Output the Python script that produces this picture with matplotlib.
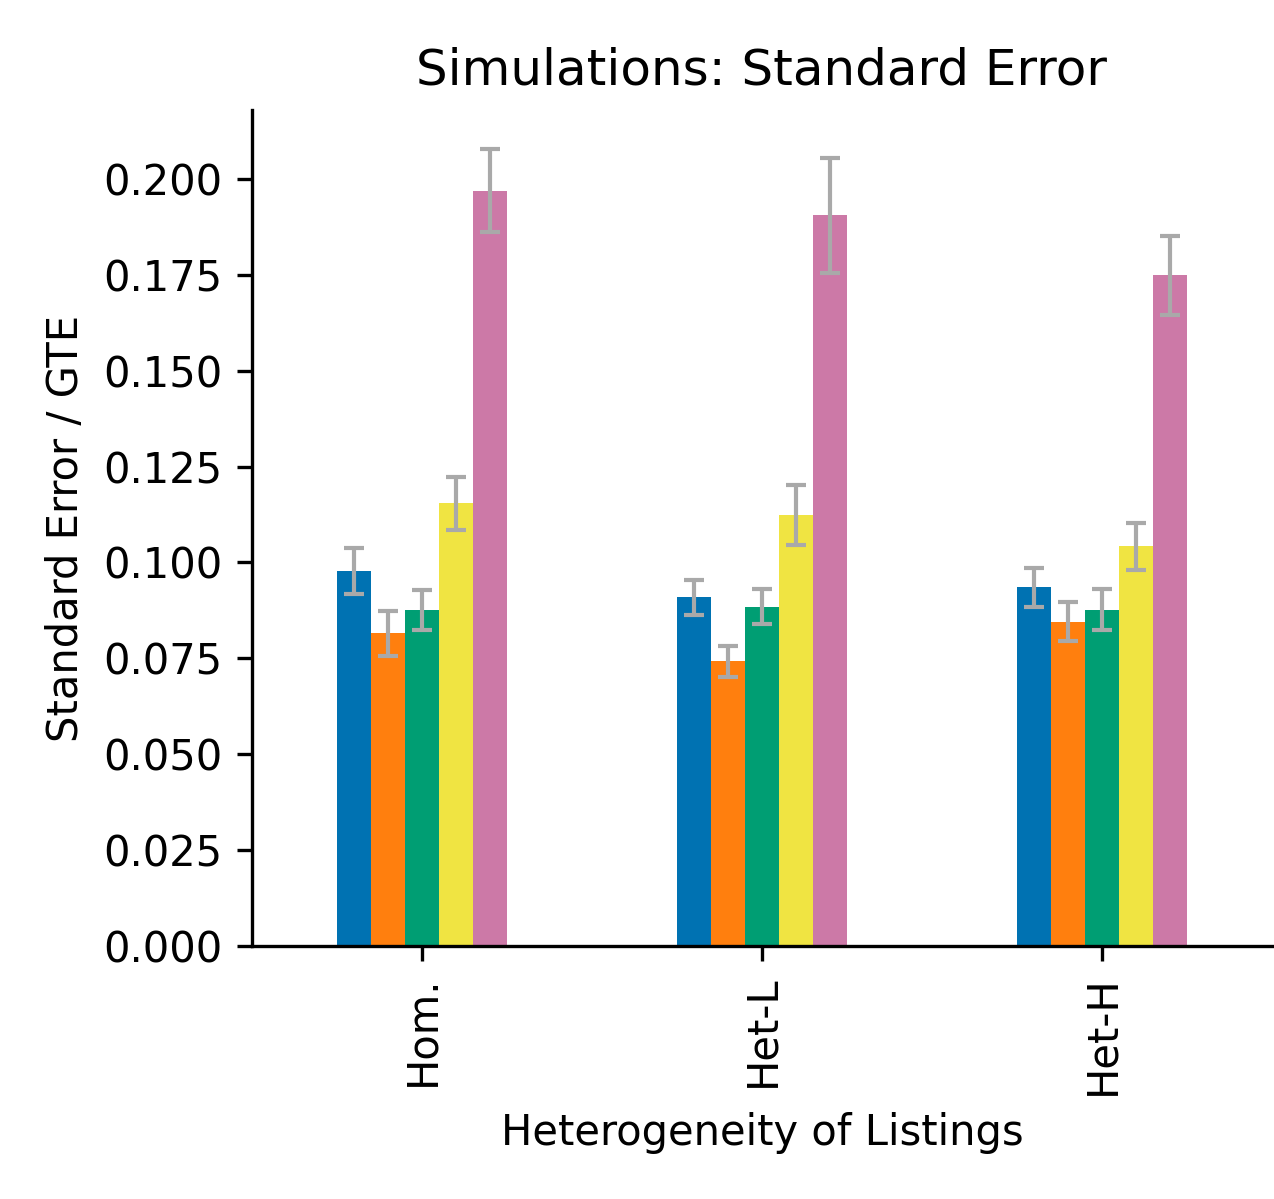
import matplotlib

matplotlib.use("Agg")
import matplotlib.pyplot as plt
import numpy as np

groups = ["Hom.", "Het-L", "Het-H"]
series_colors = ["#0072B2", "#FF7F0E", "#009E73", "#F0E442", "#CC79A7"]

# valores por serie (una lista por color), en el orden de 'groups'
se_blue = [0.0979, 0.0909, 0.0935]
se_orange = [0.0815, 0.0742, 0.0846]
se_green = [0.0877, 0.0885, 0.0877]
se_yellow = [0.1154, 0.1123, 0.1042]
se_pink = [0.1969, 0.1906, 0.1749]

err_blue = [0.0060, 0.0045, 0.0051]
err_orange = [0.0058, 0.0040, 0.0050]
err_green = [0.0052, 0.0046, 0.0053]
err_yellow = [0.0070, 0.0078, 0.0061]
err_pink = [0.0108, 0.0150, 0.0103]

values = [se_blue, se_orange, se_green, se_yellow, se_pink]
errors = [err_blue, err_orange, err_green, err_yellow, err_pink]

fig = plt.figure(figsize=(1274 / 300, 1199 / 300), dpi=300)
ax = fig.add_axes([0.1978, 0.211, 0.8006, 0.6973])

x = np.arange(len(groups))
n = len(values)
width = 0.5 / n
for i, (vals, errs, color) in enumerate(zip(values, errors, series_colors)):
    offset = (i - (n - 1) / 2) * width
    ax.bar(x + offset, vals, width, color=color, yerr=errs,
           error_kw=dict(ecolor="darkgray", elinewidth=1.0, capsize=2.4, capthick=1.0))

yticks = np.arange(0, 0.201, 0.025)
ax.set_xlim(-0.5, 2.5)
ax.set_ylim(0, 0.218)
ax.set_yticks(yticks)
ax.set_yticklabels([f"{v:.3f}" for v in yticks], fontsize=10)
ax.set_xticks(x)
ax.set_xticklabels(groups, rotation=90, fontsize=10)
ax.spines["top"].set_visible(False)
ax.spines["right"].set_visible(False)
ax.set_xlabel("Heterogeneity of Listings", fontsize=10)
ax.set_ylabel("Standard Error / GTE", fontsize=10)
ax.set_title("Simulations: Standard Error", fontsize=12)

fig.savefig("out.png", dpi=300)
